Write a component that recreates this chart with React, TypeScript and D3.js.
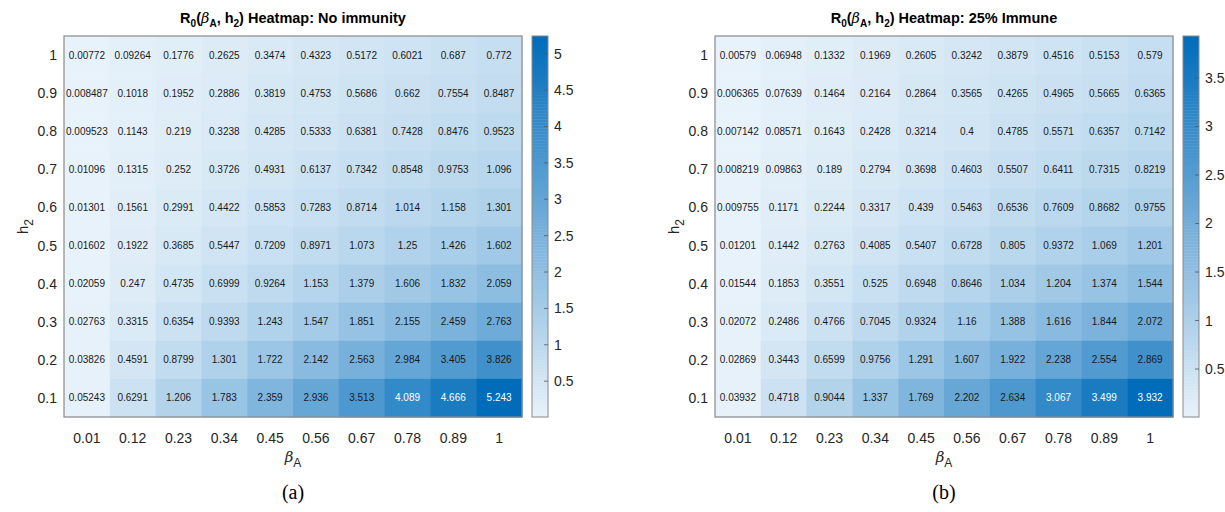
import React from "react";
import * as d3 from "d3";

const betaA = ["0.01", "0.12", "0.23", "0.34", "0.45", "0.56", "0.67", "0.78", "0.89", "1"];
const h2 = ["1", "0.9", "0.8", "0.7", "0.6", "0.5", "0.4", "0.3", "0.2", "0.1"];

const r0None: string[][] = [
  ["0.00772", "0.09264", "0.1776", "0.2625", "0.3474", "0.4323", "0.5172", "0.6021", "0.687", "0.772"],
  ["0.008487", "0.1018", "0.1952", "0.2886", "0.3819", "0.4753", "0.5686", "0.662", "0.7554", "0.8487"],
  ["0.009523", "0.1143", "0.219", "0.3238", "0.4285", "0.5333", "0.6381", "0.7428", "0.8476", "0.9523"],
  ["0.01096", "0.1315", "0.252", "0.3726", "0.4931", "0.6137", "0.7342", "0.8548", "0.9753", "1.096"],
  ["0.01301", "0.1561", "0.2991", "0.4422", "0.5853", "0.7283", "0.8714", "1.014", "1.158", "1.301"],
  ["0.01602", "0.1922", "0.3685", "0.5447", "0.7209", "0.8971", "1.073", "1.25", "1.426", "1.602"],
  ["0.02059", "0.247", "0.4735", "0.6999", "0.9264", "1.153", "1.379", "1.606", "1.832", "2.059"],
  ["0.02763", "0.3315", "0.6354", "0.9393", "1.243", "1.547", "1.851", "2.155", "2.459", "2.763"],
  ["0.03826", "0.4591", "0.8799", "1.301", "1.722", "2.142", "2.563", "2.984", "3.405", "3.826"],
  ["0.05243", "0.6291", "1.206", "1.783", "2.359", "2.936", "3.513", "4.089", "4.666", "5.243"],
];

const r0Immune: string[][] = [
  ["0.00579", "0.06948", "0.1332", "0.1969", "0.2605", "0.3242", "0.3879", "0.4516", "0.5153", "0.579"],
  ["0.006365", "0.07639", "0.1464", "0.2164", "0.2864", "0.3565", "0.4265", "0.4965", "0.5665", "0.6365"],
  ["0.007142", "0.08571", "0.1643", "0.2428", "0.3214", "0.4", "0.4785", "0.5571", "0.6357", "0.7142"],
  ["0.008219", "0.09863", "0.189", "0.2794", "0.3698", "0.4603", "0.5507", "0.6411", "0.7315", "0.8219"],
  ["0.009755", "0.1171", "0.2244", "0.3317", "0.439", "0.5463", "0.6536", "0.7609", "0.8682", "0.9755"],
  ["0.01201", "0.1442", "0.2763", "0.4085", "0.5407", "0.6728", "0.805", "0.9372", "1.069", "1.201"],
  ["0.01544", "0.1853", "0.3551", "0.525", "0.6948", "0.8646", "1.034", "1.204", "1.374", "1.544"],
  ["0.02072", "0.2486", "0.4766", "0.7045", "0.9324", "1.16", "1.388", "1.616", "1.844", "2.072"],
  ["0.02869", "0.3443", "0.6599", "0.9756", "1.291", "1.607", "1.922", "2.238", "2.554", "2.869"],
  ["0.03932", "0.4718", "0.9044", "1.337", "1.769", "2.202", "2.634", "3.067", "3.499", "3.932"],
];

const ticksNone = [0.5, 1, 1.5, 2, 2.5, 3, 3.5, 4, 4.5, 5];
const ticksImmune = [0.5, 1, 1.5, 2, 2.5, 3, 3.5];

const LOW = "rgb(232,242,250)";
const HIGH = "rgb(0,108,186)";
const FONT = "'Liberation Sans', Arial, Helvetica, sans-serif";

type PanelProps = {
  x0: number;
  title: string;
  data: string[][];
  ticks: number[];
  caption: string;
};

function Panel({ x0, title, data, ticks, caption }: PanelProps) {
  const W = 458;
  const top = 36;
  const bottom = 417;
  const nums = data.flat().map(Number);
  const vmin = d3.min(nums)!;
  const vmax = d3.max(nums)!;
  const color = d3.scaleLinear<string>().domain([vmin, vmax]).range([LOW, HIGH]).interpolate(d3.interpolateRgb);
  const xs = d3.scaleBand().domain(betaA).range([x0, x0 + W]);
  const ys = d3.scaleBand().domain(h2).range([top, bottom]);
  const cbX = x0 + W + 10;
  const cbW = 16;
  const cbY = d3.scaleLinear().domain([vmin, vmax]).range([bottom, top]);
  const nSteps = 128;
  const steps = d3.range(nSteps).map((i) => vmin + ((vmax - vmin) * (i + 0.5)) / nSteps);
  const stepH = (bottom - top) / nSteps;
  const cx = x0 + W / 2;

  return (
    <g fontFamily={FONT}>
      <text x={cx} y={23} textAnchor="middle" fontSize={14.5} fontWeight="bold" fill="#000">
        R<tspan dy={4} fontSize={10}>0</tspan>
        <tspan dy={-4}>(</tspan>
        <tspan fontFamily="'DejaVu Serif', serif" fontStyle="italic" fontWeight="normal">β</tspan>
        <tspan dy={4} fontSize={10}>A</tspan>
        <tspan dy={-4}>, h</tspan>
        <tspan dy={4} fontSize={10}>2</tspan>
        <tspan dy={-4}>) {title}</tspan>
      </text>
      {data.map((row, ri) =>
        row.map((v, ci) => {
          const val = Number(v);
          const c = color(val);
          const t = (val - vmin) / (vmax - vmin);
          return (
            <g key={`${ri}-${ci}`}>
              <rect
                x={xs(betaA[ci])!}
                y={ys(h2[ri])!}
                width={xs.bandwidth() + 0.5}
                height={ys.bandwidth() + 0.5}
                fill={c}
              />
              <text
                x={xs(betaA[ci])! + xs.bandwidth() / 2}
                y={ys(h2[ri])! + ys.bandwidth() / 2 + 3.5}
                textAnchor="middle"
                fontSize={10}
                fill={t > 0.75 ? "#fff" : "#1a1a1a"}
              >
                {v}
              </text>
            </g>
          );
        })
      )}
      <rect x={x0} y={top} width={W} height={bottom - top} fill="none" stroke="#8a8a8a" strokeWidth={1.2} />
      {h2.map((h) => (
        <text key={h} x={x0 - 7} y={ys(h)! + ys.bandwidth() / 2 + 5} textAnchor="end" fontSize={14} fill="#262626">
          {h}
        </text>
      ))}
      {betaA.map((b) => (
        <text key={b} x={xs(b)! + xs.bandwidth() / 2} y={443} textAnchor="middle" fontSize={14} fill="#262626">
          {b}
        </text>
      ))}
      <text x={cx} y={462} textAnchor="middle" fontSize={15} fill="#262626">
        <tspan fontFamily="'DejaVu Serif', serif" fontStyle="italic">β</tspan>
        <tspan dy={5} fontSize={12}>A</tspan>
      </text>
      <text transform={`translate(${x0 - 36},${(top + bottom) / 2}) rotate(-90)`} textAnchor="middle" fontSize={15} fill="#262626">
        h<tspan dy={5} fontSize={12}>2</tspan>
      </text>
      {steps.map((s, i) => (
        <rect key={i} x={cbX} y={bottom - (i + 1) * stepH} width={cbW} height={stepH + 0.4} fill={color(s)} />
      ))}
      <rect x={cbX} y={top} width={cbW} height={bottom - top} fill="none" stroke="#8a8a8a" strokeWidth={1} />
      {ticks.map((t) => (
        <g key={t}>
          <line x1={cbX + cbW - 4} x2={cbX + cbW} y1={cbY(t)} y2={cbY(t)} stroke="#555" strokeWidth={0.8} />
          <text x={cbX + cbW + 6} y={cbY(t) + 5} fontSize={14} fill="#262626">
            {t}
          </text>
        </g>
      ))}
      <text x={cx} y={499} textAnchor="middle" fontSize={20} fontFamily="'Liberation Serif', 'Times New Roman', serif" fill="#000">
        {caption}
      </text>
    </g>
  );
}

export default function App() {
  return (
    <svg width={1225} height={512} style={{ position: "absolute", left: 0, top: 0, background: "#fff" }}>
      <rect width={1225} height={512} fill="#fff" />
      <Panel x0={64} title="Heatmap: No immunity" data={r0None} ticks={ticksNone} caption="(a)" />
      <Panel x0={715} title="Heatmap: 25% Immune" data={r0Immune} ticks={ticksImmune} caption="(b)" />
    </svg>
  );
}
